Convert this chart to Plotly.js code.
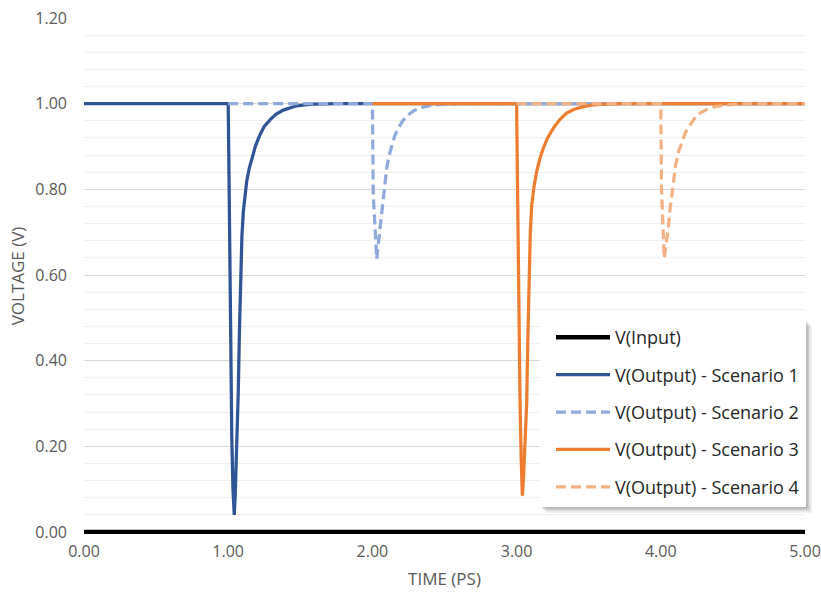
<!DOCTYPE html>
<html>
<head>
<meta charset="utf-8">
<script src="https://cdn.plot.ly/plotly-3.0.1.min.js"></script>
<style>html,body{margin:0;padding:0;background:#fff;}#chart{width:821px;height:594px;}</style>
</head>
<body>
<div id="chart"></div>
<script>
// ---- data (time in ps, voltage in V) ----
const seriesNames = ["V(Input)", "V(Output) - Scenario 1", "V(Output) - Scenario 2", "V(Output) - Scenario 3", "V(Output) - Scenario 4"];

const inputX = [0, 5];
const inputY = [0, 0];

const s1X = [0, 1.0, 1.005, 1.012, 1.018, 1.025, 1.033, 1.042, 1.049, 1.056, 1.063, 1.070, 1.078, 1.086, 1.095, 1.105, 1.115, 1.128, 1.145, 1.163, 1.19, 1.22, 1.25, 1.29, 1.33, 1.382, 1.43, 1.475, 1.53, 1.588, 1.75, 5.0];
const s1Y = [1, 1, 0.85, 0.62, 0.40, 0.22, 0.10, 0.04, 0.09, 0.16, 0.24, 0.33, 0.47, 0.61, 0.69, 0.748, 0.785, 0.818, 0.848, 0.872, 0.902, 0.927, 0.947, 0.962, 0.975, 0.985, 0.991, 0.995, 0.997, 0.999, 1.0, 1.0];

const s2X = [1.0, 2.0, 2.006, 2.015, 2.023, 2.030, 2.040, 2.053, 2.065, 2.076, 2.087, 2.099, 2.115, 2.134, 2.155, 2.18, 2.21, 2.249, 2.29, 2.342, 2.39, 2.457, 2.6, 5.0];
const s2Y = [1, 1, 0.787, 0.73, 0.678, 0.637, 0.670, 0.709, 0.75, 0.787, 0.82, 0.849, 0.878, 0.904, 0.925, 0.943, 0.96, 0.974, 0.984, 0.991, 0.995, 0.998, 1.0, 1.0];

const s3X = [2.0, 3.0, 3.005, 3.012, 3.018, 3.024, 3.032, 3.040, 3.047, 3.054, 3.062, 3.070, 3.078, 3.086, 3.095, 3.105, 3.12, 3.139, 3.16, 3.185, 3.215, 3.255, 3.30, 3.347, 3.40, 3.463, 3.53, 3.6, 3.75, 5.0];
const s3Y = [1, 1, 0.85, 0.61, 0.42, 0.30, 0.17, 0.085, 0.12, 0.19, 0.25, 0.30, 0.45, 0.61, 0.70, 0.763, 0.805, 0.841, 0.87, 0.896, 0.92, 0.943, 0.963, 0.978, 0.987, 0.993, 0.997, 0.999, 1.0, 1.0];

const s4X = [3.0, 4.0, 4.005, 4.012, 4.019, 4.024, 4.034, 4.052, 4.063, 4.075, 4.088, 4.103, 4.123, 4.145, 4.17, 4.202, 4.235, 4.272, 4.32, 4.376, 4.43, 4.49, 4.6, 5.0];
const s4Y = [1, 1, 0.80, 0.72, 0.67, 0.639, 0.665, 0.709, 0.75, 0.787, 0.822, 0.857, 0.887, 0.911, 0.932, 0.950, 0.966, 0.978, 0.987, 0.993, 0.996, 0.998, 1.0, 1.0];

const xTickVals = [0, 1, 2, 3, 4, 5];
const yTickVals = [0, 0.2, 0.4, 0.6, 0.8, 1.0, 1.2];

// ---- styling ----
const colors = ["#000000", "#2F5597", "#8FAADC", "#ED7D31", "#F4B183"];
const dashes = ["solid", "solid", "10px,5px", "solid", "10px,5px"];
const widths = [4.5, 3.25, 3.25, 3.25, 3.25];
const xs = [inputX, s1X, s2X, s3X, s4X];
const ys = [inputY, s1Y, s2Y, s3Y, s4Y];

const traces = seriesNames.map((n, i) => ({
  x: xs[i], y: ys[i], name: n, type: "scatter", mode: "lines",
  legendgroup: "g" + i,
  line: {color: colors[i], width: widths[i], dash: dashes[i]},
  hoverinfo: "skip"
}));

const W = 821, H = 594, L = 84, R = 16, T = 18, B = 60;
const pw = W - L - R, ph = H - T - B;
const px = v => (v - L) / pw;
const py = v => (H - B - v) / ph;

const font = "'Open Sans', 'DejaVu Sans', sans-serif";

// legend box and its soft shadow
const box = {l: 540, r: 806, t: 320, b: 507};
const shapes = [];
[[6, 0.05], [4.5, 0.07], [3, 0.09], [1.5, 0.10]].forEach(([o, a]) => {
  shapes.push({type: "rect", xref: "paper", yref: "paper",
    x0: px(box.l + o), x1: px(box.r + o), y0: py(box.b + o), y1: py(box.t + o),
    fillcolor: "rgba(0,0,0," + a + ")", line: {width: 0}, layer: "above"});
});
shapes.push({type: "rect", xref: "paper", yref: "paper",
  x0: px(box.l), x1: px(box.r), y0: py(box.b), y1: py(box.t),
  fillcolor: "#ffffff", line: {width: 0}, layer: "above"});

const layout = {
  width: W, height: H,
  margin: {l: L, r: R, t: T, b: B, pad: 0},
  paper_bgcolor: "#ffffff", plot_bgcolor: "#ffffff",
  font: {family: font, size: 16, color: "#595959"},
  showlegend: true,
  xaxis: {
    range: [0, 5], tickvals: xTickVals, tickformat: ".2f",
    showgrid: false, zeroline: false, showline: false, ticks: "",
    tickfont: {family: font, size: 16, color: "#595959"},
    ticklabelstandoff: 6,
    title: {text: "TIME (PS)", font: {family: font, size: 17, color: "#595959"}, standoff: 12},
    fixedrange: true
  },
  yaxis: {
    range: [-2 / 428.33, 1.2], tickvals: yTickVals, tickformat: ".2f",
    showgrid: true, gridcolor: "#d9d9d9", gridwidth: 1,
    zeroline: false, showline: false, ticks: "",
    minor: {dtick: 0.04, tick0: 0, showgrid: true, gridcolor: "#efefef", gridwidth: 1, ticks: ""},
    tickfont: {family: font, size: 16, color: "#595959"},
    ticklabelstandoff: 16,
    title: {text: "VOLTAGE (V)", font: {family: font, size: 17, color: "#595959"}, standoff: 6},
    fixedrange: true
  },
  legend: {
    x: px(551), y: py(319), xanchor: "left", yanchor: "top",
    bgcolor: "rgba(0,0,0,0)", borderwidth: 0,
    font: {family: font, size: 18, color: "#262626"},
    itemwidth: 54, traceorder: "grouped", tracegroupgap: 11
  },
  shapes: shapes
};

Plotly.newPlot("chart", traces, layout, {displayModeBar: false, staticPlot: true});
</script>
</body>
</html>
